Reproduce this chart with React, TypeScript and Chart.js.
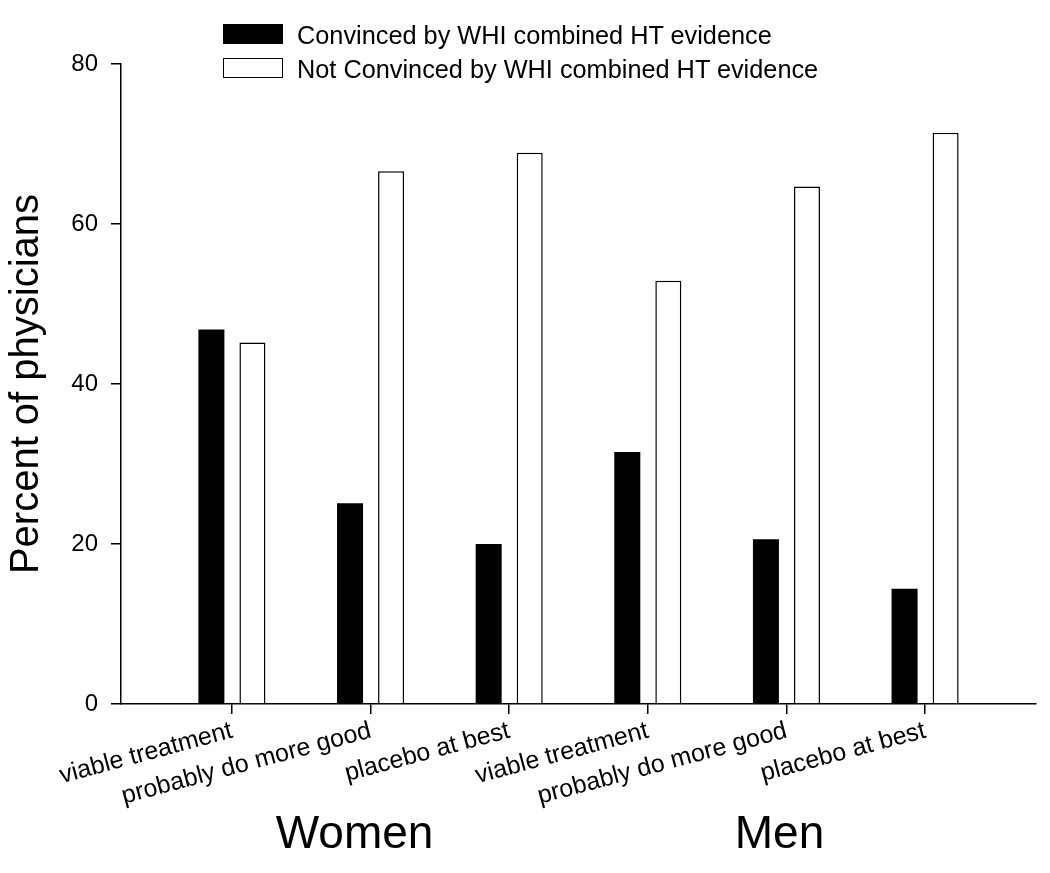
import React, { useEffect, useRef } from "react";
import { Chart, registerables } from "chart.js";

Chart.register(...registerables);

// ---- data ----
const categories = [
  "viable treatment",
  "probably do more good",
  "placebo at best",
  "viable treatment",
  "probably do more good",
  "placebo at best",
];
const convinced = [46.8, 25.1, 20.0, 31.5, 20.6, 14.4];
const notConvinced = [45.2, 66.6, 68.9, 52.9, 64.7, 71.4];
const seriesNames = [
  "Convinced by WHI combined HT evidence",
  "Not Convinced by WHI combined HT evidence",
];
const yTicks = [0, 20, 40, 60, 80];
const groups = ["Women", "Men"];
const groupCenters = [0.885, 3.95]; // on the category axis

const FONT = '"Liberation Sans", Arial, Helvetica, sans-serif';

const groupLabelPlugin = {
  id: "groupLabels",
  afterDraw(chart: any) {
    const xs = chart.scales.x;
    const ctx = chart.ctx;
    ctx.save();
    ctx.font = `46px ${FONT}`;
    ctx.fillStyle = "#000";
    ctx.textAlign = "center";
    ctx.textBaseline = "alphabetic";
    groups.forEach((g, i) => {
      ctx.fillText(g, xs.getPixelForValue(groupCenters[i]), xs.bottom - 25);
    });
    ctx.restore();
  },
};

export default function App() {
  const ref = useRef<HTMLCanvasElement | null>(null);

  useEffect(() => {
    document.body.style.margin = "0";
    const canvas = ref.current;
    if (!canvas) return;
    const chart = new Chart(canvas, {
      type: "bar",
      data: {
        datasets: [
          {
            label: seriesNames[0],
            data: convinced.map((y, i) => ({ x: i, y })),
            backgroundColor: "#000",
            borderColor: "#000",
            borderWidth: 0,
            categoryPercentage: 0.592,
            barPercentage: 0.634,
          },
          {
            label: seriesNames[1],
            data: notConvinced.map((y, i) => ({ x: i, y })),
            backgroundColor: "#fff",
            borderColor: "#000",
            borderWidth: 1.5,
            categoryPercentage: 0.592,
            barPercentage: 0.634,
          },
        ],
      } as any,
      options: {
        animation: false,
        responsive: false,
        layout: { padding: { top: 64, right: 14, left: 0, bottom: 0 } },
        plugins: {
          legend: { display: false },
          tooltip: { enabled: false },
        },
        scales: {
          x: {
            type: "linear",
            min: -0.8,
            max: 5.8,
            offset: false,
            afterBuildTicks: (s: any) => {
              s.ticks = categories.map((_, i) => ({ value: i }));
            },
            afterFit: (s: any) => {
              s.height = 169;
            },
            grid: {
              display: true,
              offset: false,
              drawOnChartArea: false,
              drawTicks: true,
              tickLength: 10,
              color: "#000",
              lineWidth: 1.5,
            },
            border: { display: true, color: "#000", width: 1.5 },
            ticks: {
              autoSkip: false,
              minRotation: 15,
              maxRotation: 15,
              color: "#000",
              font: { family: FONT, size: 25 },
              padding: 2,
              callback: (v: any) => categories[v as number] ?? "",
            },
          },
          y: {
            min: 0,
            max: 80,
            afterBuildTicks: (s: any) => {
              s.ticks = yTicks.map((v) => ({ value: v }));
            },
            afterFit: (s: any) => {
              s.width = 121;
            },
            grid: {
              display: true,
              drawOnChartArea: false,
              drawTicks: true,
              tickLength: 10,
              color: "#000",
              lineWidth: 1.5,
            },
            border: { display: true, color: "#000", width: 1.5 },
            ticks: {
              color: "#000",
              font: { family: FONT, size: 24 },
              padding: 13,
            },
            title: {
              display: true,
              text: "Percent of physicians",
              color: "#000",
              font: { family: FONT, size: 40, lineHeight: 1.2 },
              padding: { top: 3, bottom: 0 },
            },
          },
        },
      } as any,
      plugins: [groupLabelPlugin],
    });
    return () => chart.destroy();
  }, []);

  const legendText: React.CSSProperties = {
    position: "absolute",
    left: 297,
    fontFamily: FONT,
    fontSize: 25.3,
    lineHeight: "25px",
    color: "#000",
    whiteSpace: "nowrap",
  };

  return (
    <div style={{ position: "relative", width: 1050, height: 873, overflow: "hidden" }}>
      <canvas ref={ref} width={1050} height={873} style={{ display: "block" }} />
      <div
        style={{
          position: "absolute",
          left: 223,
          top: 24,
          width: 60,
          height: 20,
          background: "#000",
          boxSizing: "border-box",
        }}
      />
      <div style={{ ...legendText, top: 23 }}>{seriesNames[0]}</div>
      <div
        style={{
          position: "absolute",
          left: 223,
          top: 58,
          width: 60,
          height: 20,
          background: "#fff",
          border: "1.5px solid #000",
          boxSizing: "border-box",
        }}
      />
      <div style={{ ...legendText, top: 57 }}>{seriesNames[1]}</div>
    </div>
  );
}
